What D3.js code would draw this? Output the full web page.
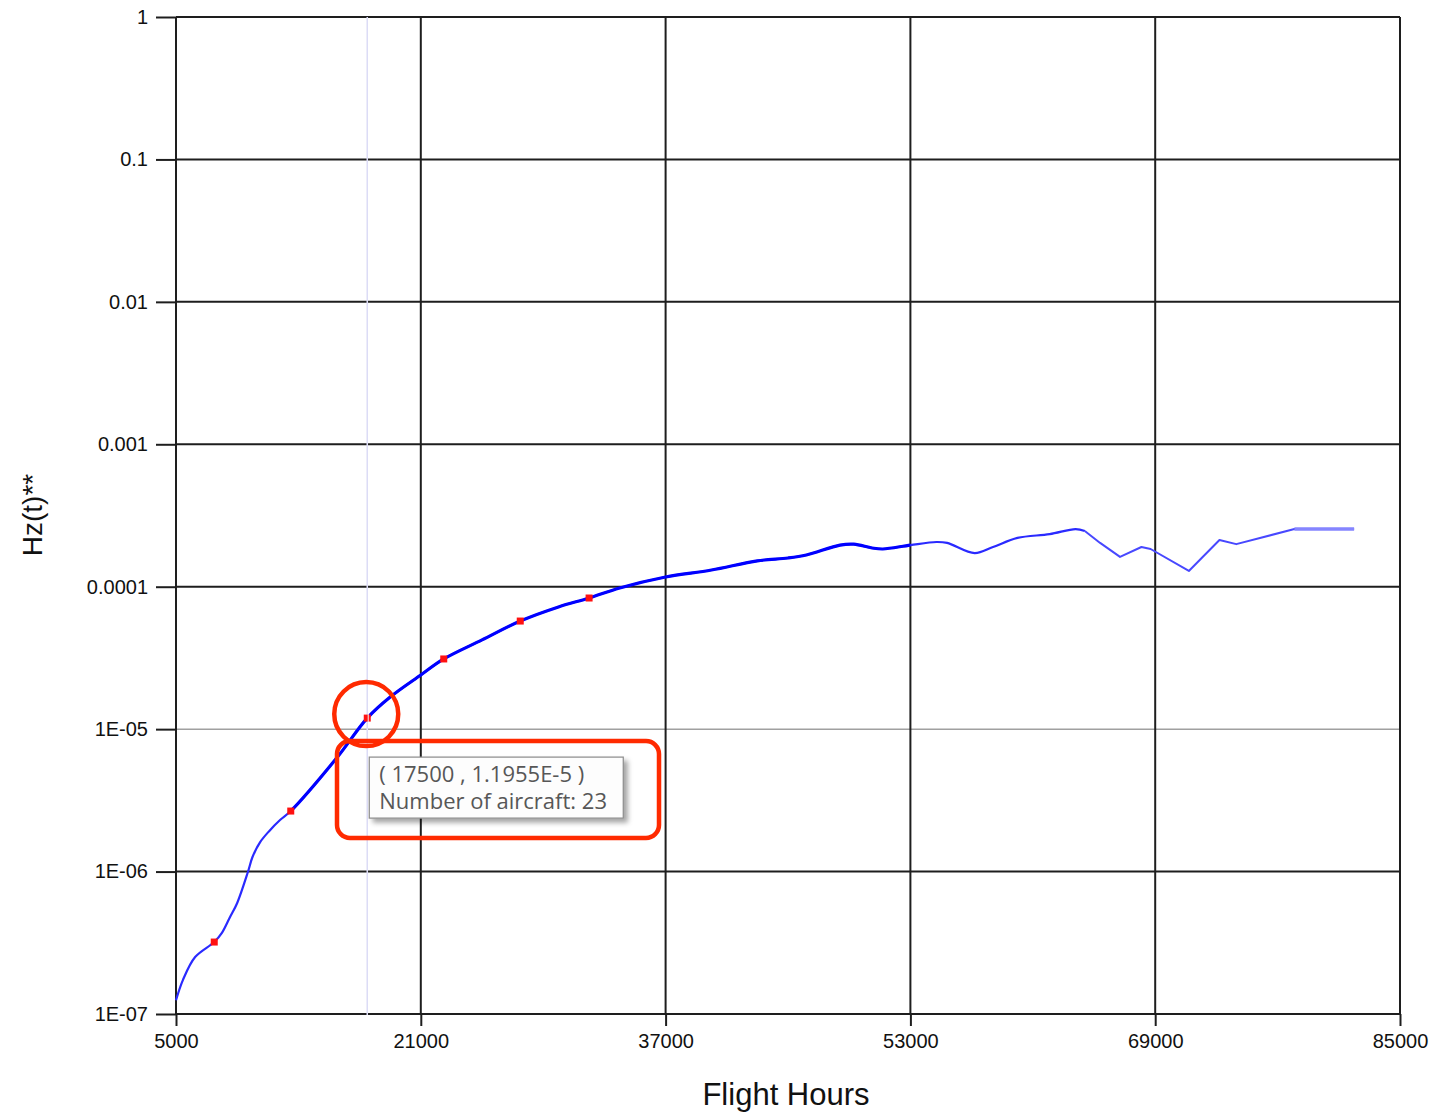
<!DOCTYPE html>
<html>
<head>
<meta charset="utf-8">
<script src="https://cdn.jsdelivr.net/npm/d3@7"></script>
<style>
body { margin: 0; background: #fff; }
text { font-family: "Liberation Sans", Arial, sans-serif; }
</style>
</head>
<body>
<svg width="1436" height="1115"></svg>
<script>
// curve values
var hours = [5000, 5450, 6250, 7500, 8000, 8500, 9000, 9700, 10000, 10500, 11100, 11800, 12500, 15500, 17500, 19000, 21000,
  22500, 25000, 27500, 30000, 32000, 34000, 37000, 40000, 43000, 45000, 46200, 48400,
  49300, 50500, 51200, 53000, 54700, 55400, 57200, 58400, 60000, 62100, 63800, 64400,
  65400, 66700, 68100, 68700, 71200, 73200, 74300, 78100, 82000];
var hz = [1.25e-7, 1.73e-7, 2.51e-7, 3.2e-7, 3.71e-7, 4.72e-7, 6.02e-7, 9.93e-7, 1.265e-6, 1.61e-6, 1.93e-6, 2.3e-6, 2.66e-6, 6.27e-6, 1.1955e-5, 1.68e-5, 2.4e-5,
  3.11e-5, 4.23e-5, 5.74e-5, 7.21e-5, 8.33e-5, 9.8e-5, 1.17e-4, 1.31e-4, 1.52e-4, 1.59e-4, 1.67e-4, 1.96e-4,
  1.99e-4, 1.87e-4, 1.84e-4, 1.96e-4, 2.06e-4, 2.03e-4, 1.72e-4, 1.9e-4, 2.2e-4, 2.34e-4, 2.54e-4, 2.46e-4,
  2.03e-4, 1.62e-4, 1.9e-4, 1.84e-4, 1.29e-4, 2.13e-4, 1.99e-4, 2.54e-4, 2.54e-4];

var markerHours = [7500, 12500, 17500, 22500, 27500, 32000];
var markerHz = [3.2e-7, 2.66e-6, 1.1955e-5, 3.11e-5, 5.74e-5, 8.33e-5];

var xTicks = [5000, 21000, 37000, 53000, 69000, 85000];
var yTicks = [1, 0.1, 0.01, 0.001, 0.0001, 1e-5, 1e-6, 1e-7];
var yTickLabels = ["1", "0.1", "0.01", "0.001", "0.0001", "1E-05", "1E-06", "1E-07"];

var hoverHours = 17500, hoverHz = 1.1955e-5, hoverAircraft = 23;

var svg = d3.select("svg");
var plotLeft = 176, plotRight = 1400, plotTop = 17, plotBottom = 1014;

var x = d3.scaleLinear().domain([5000, 85000]).range([plotLeft, plotRight]);
var y = d3.scaleLog().domain([1e-7, 1]).range([plotBottom, plotTop]);

var pts = hours.map(function(h, i) { return [h, hz[i]]; });

// grid
svg.selectAll(".hgrid")
  .data(yTicks)
  .enter().append("line")
    .attr("x1", plotLeft).attr("x2", plotRight)
    .attr("y1", function(d) { return y(d); })
    .attr("y2", function(d) { return y(d); })
    .style("stroke", function(d) { return d === 1e-5 ? "#a0a0a0" : "#1e1e1e"; })
    .style("stroke-width", function(d) { return d === 1e-5 ? 1.5 : 2; });

svg.selectAll(".vgrid")
  .data(xTicks)
  .enter().append("line")
    .attr("y1", plotTop).attr("y2", plotBottom)
    .attr("x1", function(d) { return x(d); })
    .attr("x2", function(d) { return x(d); })
    .style("stroke", "#1e1e1e")
    .style("stroke-width", 2);

// axes
var yAxis = d3.axisLeft(y)
  .tickValues(yTicks)
  .tickFormat(function(d, i) { return yTickLabels[i]; })
  .tickSize(20).tickPadding(8);
var gy = svg.append("g").attr("transform", "translate(" + plotLeft + ",0)").call(yAxis);

var xAxis = d3.axisBottom(x).tickValues(xTicks).tickFormat(d3.format("d"))
  .tickSize(12).tickPadding(8);
var gx = svg.append("g").attr("transform", "translate(0," + plotBottom + ")").call(xAxis);

[gy, gx].forEach(function(g) {
  g.select(".domain").remove();
  g.selectAll(".tick line").style("stroke", "#1e1e1e").style("stroke-width", 2);
  g.selectAll(".tick text").style("font-size", "20px").style("fill", "#111")
    .style("font-family", "'Liberation Sans', Arial, sans-serif");
});

// hover line
svg.append("line")
  .attr("x1", x(hoverHours)).attr("x2", x(hoverHours))
  .attr("y1", plotTop).attr("y2", plotBottom + 1)
  .style("stroke", "#dcdcf6").style("stroke-width", 1.5);

// curve
var defs = svg.append("defs");
function clip(id, h0, h1) {
  defs.append("clipPath").attr("id", id).append("rect")
    .attr("x", x(h0)).attr("width", x(h1) - x(h0))
    .attr("y", 0).attr("height", 1115);
  return "url(#" + id + ")";
}

var smooth = pts.filter(function(p) { return p[0] <= 64400; });
var rough = pts.filter(function(p) { return p[0] >= 64400; });

var smoothLine = d3.line().curve(d3.curveCatmullRom.alpha(0.5))
  .x(function(d) { return x(d[0]); }).y(function(d) { return y(d[1]); });
var straightLine = d3.line()
  .x(function(d) { return x(d[0]); }).y(function(d) { return y(d[1]); });

svg.append("path").attr("d", smoothLine(smooth))
  .style("fill", "none").style("stroke", "#2a2aff").style("stroke-width", 2.2);
svg.append("path").attr("d", smoothLine(smooth))
  .attr("clip-path", clip("thick", 12500, 53000))
  .style("fill", "none").style("stroke", "#0000ff").style("stroke-width", 3.2);
svg.append("path").attr("d", straightLine(rough))
  .style("fill", "none").style("stroke", "#4848ff").style("stroke-width", 2)
  .style("stroke-linejoin", "round");
svg.append("path").attr("d", straightLine(rough))
  .attr("clip-path", clip("faded", 78100, 85000))
  .style("fill", "none").style("stroke", "#8585ff").style("stroke-width", 3.5);

// markers
svg.selectAll(".marker")
  .data(markerHours)
  .enter().append("rect")
    .attr("x", function(d) { return x(d) - 3.5; })
    .attr("y", function(d, i) { return y(markerHz[i]) - 3.5; })
    .attr("width", 7).attr("height", 7)
    .style("fill", "#ff1010");

svg.append("line")
  .attr("x1", x(hoverHours) + 1).attr("x2", x(hoverHours) + 1)
  .attr("y1", y(hoverHz) - 4).attr("y2", y(hoverHz) + 4)
  .style("stroke", "#f4d0d0").style("stroke-width", 1.2);

// tooltip
var filter = defs.append("filter").attr("id", "shadow")
  .attr("x", "-10%").attr("y", "-10%").attr("width", "130%").attr("height", "150%");
filter.append("feDropShadow").attr("dx", 4).attr("dy", 4).attr("stdDeviation", 2.5)
  .attr("flood-color", "#000").attr("flood-opacity", 0.35);

var tip = svg.append("g").attr("transform", "translate(" + (x(hoverHours) + 2) + "," + (y(hoverHz) + 39) + ")");
tip.append("rect").attr("width", 254).attr("height", 61)
  .style("fill", "#fdfdfd").style("stroke", "#8a8a8a").style("stroke-width", 1.2)
  .attr("filter", "url(#shadow)");
tip.append("text").attr("x", 10).attr("y", 25)
  .text("( " + hoverHours + " , " + "1.1955E-5" + " )")
  .style("font-family", "'Open Sans', 'Noto Sans', sans-serif").style("font-size", "22px").style("fill", "#575757");
tip.append("text").attr("x", 10).attr("y", 52)
  .text("Number of aircraft: " + hoverAircraft)
  .style("font-family", "'Open Sans', 'Noto Sans', sans-serif").style("font-size", "22px").style("fill", "#575757");

// red callouts
svg.append("circle")
  .attr("cx", x(hoverHours) - 1).attr("cy", y(hoverHz) - 4).attr("r", 32)
  .style("fill", "none").style("stroke", "#ff2a00").style("stroke-width", 4.5);
svg.append("rect")
  .attr("x", 337).attr("y", 741).attr("width", 322).attr("height", 97).attr("rx", 13)
  .style("fill", "none").style("stroke", "#ff2a00").style("stroke-width", 4.5);

// axis titles
svg.append("text")
  .attr("x", 786).attr("y", 1105).attr("text-anchor", "middle")
  .style("font-size", "31px").style("fill", "#111")
  .text("Flight Hours");
svg.append("text")
  .attr("transform", "translate(42,515) rotate(-90)").attr("text-anchor", "middle")
  .style("font-size", "28px").style("fill", "#111")
  .text("Hz(t)**");
</script>
</body>
</html>
